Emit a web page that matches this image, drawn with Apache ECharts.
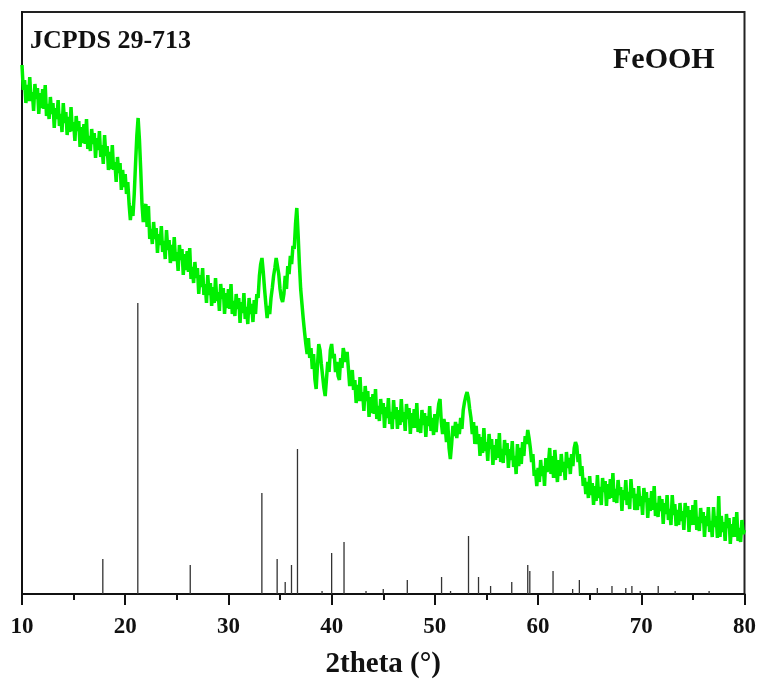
<!DOCTYPE html>
<html>
<head>
<meta charset="utf-8">
<script src="https://cdn.jsdelivr.net/npm/echarts@6/dist/echarts.min.js"></script>
<style>html,body{margin:0;padding:0;background:#fff;}#chart{width:759px;height:690px;}</style>
</head>
<body>
<div id="chart"></div>
<script>
// 2theta start and step of the measured trace
var traceStart = 10;
var traceStep = 0.125;
// measured intensity (arbitrary units), one row per degree (10..79), then 80
var traceValues = [
529,504,514,491,509,493,517,493,
502,483,510,495,506,480,501,486,
505,485,509,478,490,475,497,480,
491,466,486,475,494,468,480,462,
491,471,482,459,477,462,487,463,
472,453,478,463,473,447,467,451,
470,450,475,445,458,443,465,450,
461,436,456,444,463,437,449,430,
459,438,448,424,442,425,449,424,
432,412,437,421,431,404,424,407,
420,400,412,390,374,388,378,400,
430,458,476,455,425,390,372,385,
390,367,388,355,365,350,372,355,
366,341,360,349,368,342,353,335,
364,344,354,331,349,333,357,333,
342,323,349,334,345,319,340,324,
343,322,346,315,327,311,332,316,
326,300,319,307,326,299,310,291,
319,299,311,288,307,291,316,293,
302,283,310,295,306,280,301,286,
305,285,310,280,293,278,300,285,
296,271,292,281,301,275,287,270,
296,280,290,272,294,280,300,296,
318,330,336,322,305,290,276,288,
280,296,306,318,326,336,338,320,
305,296,292,300,318,305,328,320,
338,330,348,345,370,386,360,330,
305,290,275,262,250,240,256,236,
246,225,240,215,205,228,250,244,
230,218,206,198,215,232,222,244,
250,236,240,222,232,218,214,236,
226,246,248,232,242,225,208,215,
224,204,214,191,209,193,217,193,
202,183,208,193,203,177,197,181,
200,180,205,175,188,173,195,180,
191,166,187,176,196,170,182,165,
194,175,187,165,184,169,195,172,
182,163,190,175,186,160,181,166,
185,166,191,162,175,161,184,169,
181,157,178,168,188,163,176,159,
180,162,178,190,195,172,160,175,
168,152,172,146,135,150,168,158,
172,156,170,160,176,165,184,192,
198,202,196,185,176,160,172,150,
168,150,160,138,157,141,166,143,
152,133,160,145,155,129,149,134,
155,136,161,132,145,131,154,139,
151,126,145,134,153,127,138,120,
150,128,146,130,152,138,158,150,
164,156,146,132,140,118,124,108,
126,112,134,118,128,108,136,122,
130,146,120,138,116,144,128,112,
134,118,140,122,132,114,142,126,
136,120,140,128,146,152,148,132,
140,118,128,108,116,100,112,96,
118,99,111,89,108,93,119,96,
107,89,116,102,113,88,110,95,
115,96,121,92,105,91,114,99,
107,83,104,94,114,89,102,85,
115,96,106,84,100,84,108,88,
98,79,106,92,102,76,96,83,
103,84,108,78,91,77,98,83,
95,70,91,80,99,74,85,69,
99,79,90,68,84,69,91,73,
83,64,91,77,88,62,84,69,
89,69,94,64,77,63,86,71,
82,57,78,68,87,62,73,57,
87,67,78,56,98,57,78,62,
72,53,80,66,76,50,70,57,
77,57,82,53,66,52,74,60,
64
];
// JCPDS 29-713 reference lines: positions (2theta) and relative heights
var refPositions = [17.83,21.22,26.3,33.24,34.72,35.5,36.11,36.69,39.07,40.0,41.2,43.33,45.0,47.33,50.65,51.52,53.26,54.23,55.4,57.45,59.0,59.2,61.45,63.35,64.0,65.74,67.16,68.5,69.09,69.9,71.64,73.28,76.57];
var refHeights   = [35,291,29,101,35,12,29,145,3,41,52,3,5,14,17,3,58,17,8,12,29,23,23,5,14,6,8,6,8,3,8,3,3];
var xTicks = [10,20,30,40,50,60,70,80];

var traceData = traceValues.map(function(v,i){ return [traceStart + i*traceStep, v]; });
var refData = refPositions.map(function(p,i){ return [p, refHeights[i]]; });

var chart = echarts.init(document.getElementById('chart'));
var serif = '"Liberation Serif","Times New Roman",serif';
chart.setOption({
  animation: false,
  backgroundColor: '#fff',
  grid: {left: 22, right: 13, top: 12, bottom: 96, show: true, borderColor: '#222', borderWidth: 2},
  xAxis: {
    type: 'value', min: xTicks[0], max: xTicks[xTicks.length-1], interval: 10,
    name: '2theta (°)', nameLocation: 'middle', nameGap: 56,
    nameTextStyle: {fontFamily: serif, fontWeight: 'bold', fontSize: 29, color: '#111'},
    axisLine: {show: true, onZero: false, lineStyle: {color: '#111', width: 2}},
    axisTick: {show: true, inside: false, length: 11, lineStyle: {color: '#111', width: 2}},
    minorTick: {show: true, splitNumber: 2, length: 6, lineStyle: {color: '#111', width: 2}},
    axisLabel: {fontFamily: serif, fontWeight: 'bold', fontSize: 23, color: '#111', margin: 22},
    splitLine: {show: false}
  },
  yAxis: {
    type: 'value', min: 0, max: 582,
    axisLine: {show: true, lineStyle: {color: '#111', width: 2}},
    axisTick: {show: false}, axisLabel: {show: false}, splitLine: {show: false}
  },
  graphic: [
    {type: 'text', left: 30, top: 28, style: {text: 'JCPDS 29-713', font: 'bold 26px ' + serif, fill: '#111'}},
    {type: 'text', left: 613, top: 45, style: {text: 'FeOOH', font: 'bold 30px ' + serif, fill: '#111'}}
  ],
  series: [
    {
      type: 'custom', data: refData, z: 2,
      renderItem: function(params, api){
        var p0 = api.coord([api.value(0), 0]);
        var p1 = api.coord([api.value(0), api.value(1)]);
        return {type: 'line', shape: {x1: p0[0], y1: p0[1], x2: p1[0], y2: p1[1]},
                style: {stroke: '#333', lineWidth: 1.3}};
      }
    },
    {
      type: 'line', data: traceData, showSymbol: false, symbol: 'none', z: 3,
      lineStyle: {color: '#00f000', width: 3.5}
    }
  ]
});
</script>
</body>
</html>
